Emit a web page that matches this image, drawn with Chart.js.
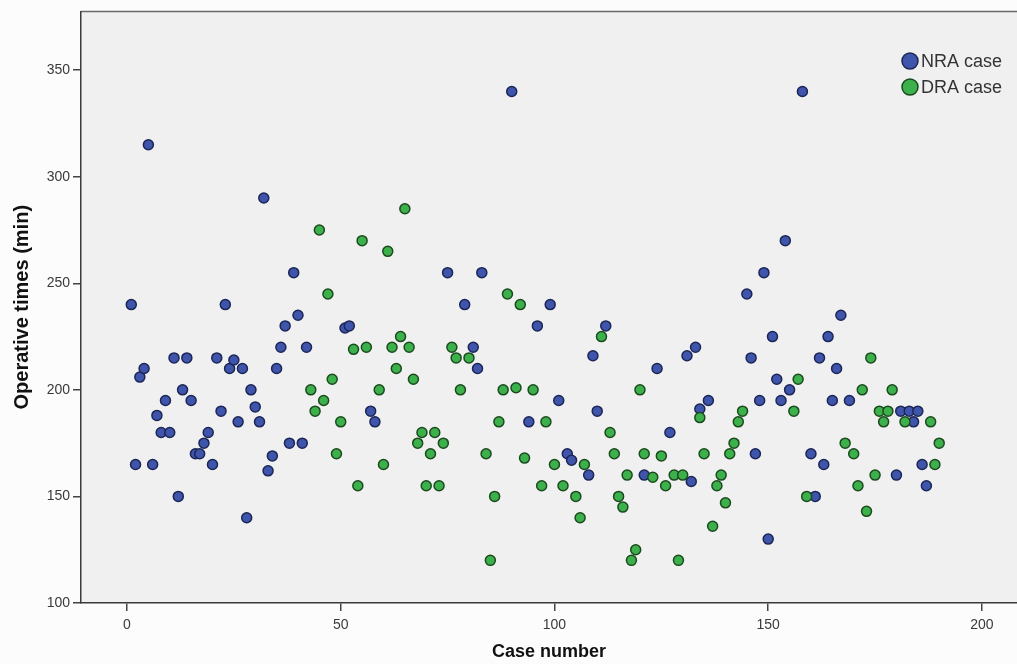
<!DOCTYPE html>
<html>
<head>
<meta charset="utf-8">
<script src="https://cdn.jsdelivr.net/npm/chart.js@4.4.1/dist/chart.umd.min.js"></script>
<style>
  html, body { margin: 0; padding: 0; background: #fcfcfd; }
  #wrap { width: 1017px; height: 664px; }
</style>
</head>
<body>
<div id="wrap"><canvas id="c" width="1017" height="664"></canvas></div>
<script>
// ---- Data ----
const seriesNames = ["NRA case", "DRA case"];

const nraCase = [1,2,3,4,5,6,7,8,9,10,11,12,13,14,15,16,17,18,19,20,21,22,23,24,25,26,27,28,29,30,31,32,33,34,35,36,37,38,39,40,41,42,
  51,52,57,58,75,79,81,82,83,90,94,96,99,101,103,104,108,109,110,112,121,124,127,131,132,133,134,136,
  145,146,147,148,149,150,151,152,153,154,155,158,160,161,162,163,164,165,166,167,169,180,181,183,184,185,186,187];
const nraTime = [240,165,206,210,315,165,188,180,195,180,215,150,200,215,195,170,170,175,180,165,215,190,240,210,214,185,210,140,200,192,185,290,162,169,210,220,230,175,255,235,175,220,
  229,230,190,185,255,240,220,210,255,340,185,230,240,195,170,167,160,216,190,230,160,210,180,216,157,220,191,195,
  245,215,170,195,255,130,225,205,195,270,200,340,170,150,215,165,225,195,210,235,195,160,190,190,185,190,165,155];

const draCase = [43,44,45,46,47,48,49,50,53,54,55,56,59,60,61,62,63,64,65,66,67,68,69,70,71,72,73,74,76,77,78,80,
  84,85,86,87,88,89,91,92,93,95,97,98,100,102,105,106,107,111,113,114,115,116,117,118,119,120,121,123,125,126,128,129,130,
  134,135,137,138,139,140,141,142,143,144,156,157,159,168,170,171,172,173,174,175,176,177,178,179,182,188,189,190];
const draTime = [200,190,275,195,245,205,170,185,219,155,270,220,200,165,265,220,210,225,285,220,205,175,180,155,170,180,155,175,220,215,200,215,
  170,120,150,185,200,245,201,240,168,200,155,185,165,155,150,140,165,225,180,170,150,145,160,120,125,200,170,159,169,155,160,120,160,
  187,170,136,155,160,147,170,175,185,190,190,205,150,175,170,155,200,143,215,160,190,185,190,200,185,185,165,175];

const xTicks = [0, 50, 100, 150, 200];
const yTicks = [100, 150, 200, 250, 300, 350];

const xTitle = "Case number";
const yTitle = "Operative times (min)";

// ---- Build chart ----
const toPoints = (xs, ys) => xs.map((x, i) => ({ x: x, y: ys[i] }));

const FONT = '"Liberation Sans", Arial, sans-serif';

const bgPlugin = {
  id: 'bg',
  beforeDraw(chart) {
    const { ctx, chartArea: a, width, height } = chart;
    ctx.save();
    ctx.fillStyle = '#fcfcfd';
    ctx.fillRect(0, 0, width, height);
    ctx.fillStyle = '#f0f0f0';
    ctx.fillRect(a.left, a.top, a.right - a.left, a.bottom - a.top);
    ctx.strokeStyle = '#6a6a6a';
    ctx.lineWidth = 1.5;
    ctx.beginPath();
    ctx.moveTo(a.left, a.top);
    ctx.lineTo(a.right, a.top);
    ctx.stroke();
    ctx.restore();
  }
};

const legendPlugin = {
  id: 'customLegend',
  afterDraw(chart) {
    const { ctx } = chart;
    ctx.save();
    chart.data.datasets.forEach((ds, i) => {
      const cx = 910, cy = 61 + i * 26;
      ctx.beginPath();
      ctx.arc(cx, cy, 8, 0, Math.PI * 2);
      ctx.fillStyle = ds.backgroundColor;
      ctx.fill();
      ctx.lineWidth = 1.5;
      ctx.strokeStyle = ds.borderColor;
      ctx.stroke();
      ctx.fillStyle = '#333333';
      ctx.font = '18px ' + FONT;
      ctx.textBaseline = 'middle';
      ctx.textAlign = 'left';
      ctx.fillText(ds.label, 921, cy + 1);
    });
    ctx.restore();
  }
};

new Chart(document.getElementById('c'), {
  type: 'scatter',
  data: {
    datasets: [
      {
        label: seriesNames[0],
        data: toPoints(nraCase, nraTime),
        backgroundColor: '#3f55ab',
        borderColor: '#1c2656',
        borderWidth: 1.5,
        pointRadius: 5,
        order: 2
      },
      {
        label: seriesNames[1],
        data: toPoints(draCase, draTime),
        backgroundColor: '#3cb04a',
        borderColor: '#1c4a1f',
        borderWidth: 1.5,
        pointRadius: 5,
        order: 1
      }
    ]
  },
  options: {
    responsive: false,
    animation: false,
    devicePixelRatio: 1,
    layout: { autoPadding: false, padding: { left: 0, top: 9, right: 0, bottom: 0 } },
    plugins: {
      legend: { display: false },
      tooltip: { enabled: false }
    },
    scales: {
      x: {
        type: 'linear',
        min: -10.76,
        max: 208.2,
        afterFit(scale) { scale.height = 61; },
        afterBuildTicks(scale) { scale.ticks = xTicks.map(v => ({ value: v })); },
        grid: { display: true, drawOnChartArea: false, drawTicks: true, tickLength: 8, color: '#444', lineWidth: 1.5 },
        border: { display: true, color: '#3a3a3a', width: 1.5 },
        ticks: { color: '#3a3a3a', font: { family: FONT, size: 14 }, padding: 6, maxRotation: 0 },
        title: { display: true, text: xTitle, color: '#111', font: { family: FONT, size: 18, weight: 'bold' }, padding: { top: 0, bottom: 1 } }
      },
      y: {
        type: 'linear',
        min: 100,
        max: 377.57,
        afterFit(scale) { scale.width = 81; },
        afterBuildTicks(scale) { scale.ticks = yTicks.map(v => ({ value: v })); },
        grid: { display: true, drawOnChartArea: false, drawTicks: true, tickLength: 8, color: '#444', lineWidth: 1.5 },
        border: { display: true, color: '#3a3a3a', width: 1.5 },
        ticks: { color: '#3a3a3a', font: { family: FONT, size: 14 }, padding: 3 },
        title: { display: true, text: yTitle, color: '#111', font: { family: FONT, size: 20, weight: 'bold' }, padding: { top: 10, bottom: 0 } }
      }
    }
  },
  plugins: [bgPlugin, legendPlugin]
});
</script>
</body>
</html>
